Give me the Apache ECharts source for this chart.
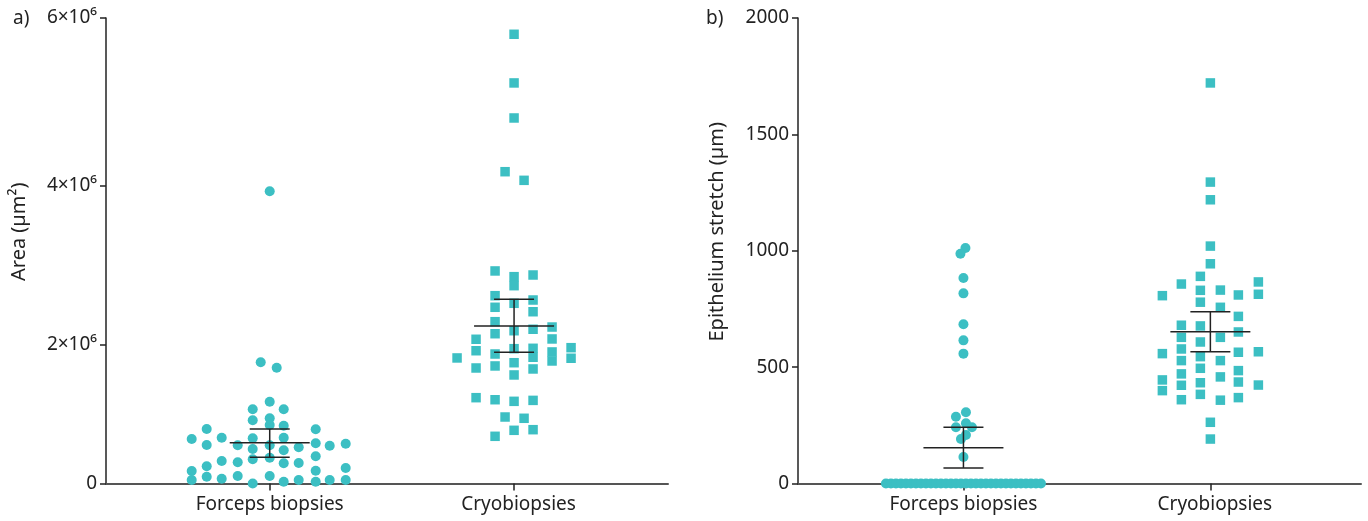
<!DOCTYPE html>
<html>
<head>
<meta charset="utf-8">
<script src="https://cdn.jsdelivr.net/npm/echarts@6/dist/echarts.min.js"></script>
<style>
  html, body { margin: 0; padding: 0; background: #fff; }
  #chart { width: 1368px; height: 521px; }
</style>
</head>
<body>
<div id="chart"></div>
<script>
// ---------------- DATA ----------------
const categories = ['Forceps biopsies', 'Cryobiopsies'];

// Panel a) Area (µm²)
const areaForceps = [3930000, 1766000, 1694000, 1235000, 1130000, 1130000, 977000, 1005000, 910000, 900000,
  854000, 850000, 710000, 729000, 720000, 729000, 622000, 618000, 618000, 648000,
  612000, 642000, 563000, 544000, 589000, 433000, 454000, 382000, 362000, 408000,
  347000, 351000, 299000, 224000, 272000, 229000, 70000, 129000, 94000, 141000,
  141000, 0, 39000, 70000, 39000, 70000, 70000];
// horizontal swarm offset of each dot, in dot widths
const areaForcepsJitter = [0, -0.9, 0.7, 0, -1.7, 1.4, -1.7, 0, 0, 1.4,
  -6.3, 4.6, -7.8, -4.8, -1.7, 1.4, -6.3, -3.2, 0, 4.6,
  6.0, 7.6, -1.7, 1.4, 2.9, 0, 4.6, -4.8, -3.2, -1.7,
  1.4, 2.9, -6.3, -7.8, 7.6, 4.6, -7.8, -6.3, -4.8, -3.2,
  0, -1.7, 1.4, 2.9, 4.6, 6.0, 7.6];

const areaCryo = [5809000, 5234000, 4816000, 4168000, 4063000, 2942000, 2870000, 2756000, 2891000, 2629000,
  2574000, 2532000, 2481000, 2424000, 2296000, 2227000, 2179000, 2198000, 2140000, 2068000,
  2072000, 1918000, 1875000, 1945000, 1950000, 1832000, 1902000, 1783000, 1958000, 1819000,
  1823000, 1690000, 1717000, 1760000, 1677000, 1597000, 1290000, 1262000, 1240000, 1253000,
  1023000, 1005000, 835000, 844000, 749000];
const areaCryoJitter = [0, 0, 0, -0.9, 1.0, -1.9, 0, 0, 1.9, -1.9,
  1.9, 0, -1.9, 1.9, -1.9, 3.8, 0, 1.9, -1.9, -3.8,
  3.8, -3.8, -1.9, 0, 1.9, 1.9, 3.8, 3.8, 5.7, 5.7,
  -5.7, -3.8, -1.9, 0, 1.9, 0, -3.8, -1.9, 0, 1.9,
  -0.9, 1.0, 0, 1.9, -1.9];

const areaMean = [656000, 2240000];
const areaLow = [439000, 1898000];
const areaHigh = [854000, 2583000];
const areaTicks = [0, 2000000, 4000000, 6000000];

// Panel b) Epithelium stretch (µm)
const stretchForceps = [1012, 987, 883, 817, 684, 615, 558, 306, 287, 242,
  259, 242, 191, 208, 114,
  0, 0, 0, 0, 0, 0, 0, 0, 0, 0, 0, 0, 0, 0, 0, 0,
  0, 0, 0, 0, 0, 0, 0, 0, 0, 0, 0, 0, 0, 0, 0, 0];
const stretchForcepsJitter = [0.2, -0.3, 0, 0, 0, 0, 0, 0.25, -0.75, -0.75,
  0.25, 0.85, -0.25, 0.25, 0,
  -7.75, -7.25, -6.75, -6.25, -5.75, -5.25, -4.75, -4.25, -3.75, -3.25, -2.75, -2.25, -1.75, -1.25, -0.75, -0.25,
  0.25, 0.75, 1.25, 1.75, 2.25, 2.75, 3.25, 3.75, 4.25, 4.75, 5.25, 5.75, 6.25, 6.75, 7.25, 7.75];

const stretchCryo = [1721, 1295, 1219, 1020, 944, 890, 857, 866, 807, 830,
  831, 810, 813, 779, 757, 718, 680, 677, 628, 651,
  628, 608, 578, 558, 564, 566, 528, 545, 528, 495,
  485, 471, 458, 445, 399, 422, 433, 436, 423, 360,
  383, 358, 369, 263, 191];
const stretchCryoJitter = [0, 0, 0, 0, 0, -1.0, -2.9, 4.8, -4.8, -1.0,
  1.0, 2.8, 4.8, -1.0, 1.0, 2.8, -2.9, -1.0, 1.0, 2.8,
  -2.9, -1.0, -2.9, -4.8, 2.8, 4.8, -2.9, -1.0, 1.0, -1.0,
  2.8, -2.9, 1.0, -4.8, -4.8, -2.9, -1.0, 2.8, 4.8, -2.9,
  -1.0, 1.0, 2.8, 0, 0];

const stretchMean = [154, 652];
const stretchLow = [67, 566];
const stretchHigh = [242, 738];
const stretchTicks = [0, 500, 1000, 1500, 2000];

// ---------------- STYLE / HELPERS ----------------
const FONT = 'Noto Sans';
const TEAL = '#3cbfc3';
const INK = '#222';
const JITTER_UNIT = 10; // px per dot width

// Panel a's printed y axis is slightly non-linear (ticks follow value^1.1)
const POW = 1.1;
const fwdA = v => Math.pow(v / 1e6, POW);
const invA = t => Math.pow(t, 1 / POW) * 1e6;

function supExp(n) {
  const map = {'0':'⁰','1':'¹','2':'²','3':'³','4':'⁴','5':'⁵','6':'⁶','7':'⁷','8':'⁸','9':'⁹'};
  return String(n).split('').map(c => map[c]).join('');
}
function areaLabel(t) {
  const v = Math.round(invA(t));
  if (v === 0) return '0';
  const e = Math.floor(Math.log10(v));
  const m = Math.round(v / Math.pow(10, e));
  return m + '×10' + supExp(e);
}

function scatterData(xPos, values, jitter, fwd) {
  return values.map((v, i) => ({
    value: [xPos, fwd(v)],
    symbolOffset: [jitter[i] * JITTER_UNIT, 0]
  }));
}

function errorData(means, lows, highs, fwd) {
  return means.map((m, i) => [i + 1, fwd(m), fwd(lows[i]), fwd(highs[i])]);
}

function renderErr(params, api) {
  const x = api.value(0);
  const pm = api.coord([x, api.value(1)]);
  const pl = api.coord([x, api.value(2)]);
  const ph = api.coord([x, api.value(3)]);
  const st = { stroke: INK, lineWidth: 1.5 };
  return {
    type: 'group',
    children: [
      { type: 'line', shape: { x1: pm[0] - 40, y1: pm[1], x2: pm[0] + 40, y2: pm[1] }, style: st },
      { type: 'line', shape: { x1: pl[0], y1: pl[1], x2: ph[0], y2: ph[1] }, style: st },
      { type: 'line', shape: { x1: ph[0] - 20, y1: ph[1], x2: ph[0] + 20, y2: ph[1] }, style: st },
      { type: 'line', shape: { x1: pl[0] - 20, y1: pl[1], x2: pl[0] + 20, y2: pl[1] }, style: st }
    ]
  };
}

const ident = v => v;

function xAxisCfg(gridIndex, min, max) {
  return {
    type: 'value', gridIndex, min, max,
    splitLine: { show: false },
    axisLine: { show: true, onZero: false, lineStyle: { color: '#555', width: 2 } },
    axisTick: { show: true, customValues: [1, 2], length: 7, lineStyle: { color: INK, width: 1.5 } },
    axisLabel: {
      show: true, customValues: [1, 2], margin: 12,
      formatter: v => (Math.round(v) === 2 ? '{c|' : '{f|') + categories[Math.round(v) - 1] + '}',
      rich: {
        f: { fontFamily: FONT, fontSize: 19, color: INK },
        c: { fontFamily: FONT, fontSize: 19, color: INK, padding: [0, 0, 0, 9] }
      },
      fontFamily: FONT, fontSize: 19, color: INK
    }
  };
}

const option = {
  backgroundColor: '#fff',
  animation: false,
  title: [
    { text: 'a)', left: 8, top: 4, textStyle: { fontFamily: FONT, fontSize: 19, fontWeight: 'normal', color: INK } },
    { text: 'b)', left: 701, top: 4, textStyle: { fontFamily: FONT, fontSize: 19, fontWeight: 'normal', color: INK } }
  ],
  grid: [
    { left: 106, top: 18, width: 562, bottom: 37.5 },
    { left: 798, top: 18, width: 563, bottom: 37.5 }
  ],
  xAxis: [
    xAxisCfg(0, 0.33, 2.63),
    xAxisCfg(1, 0.33, 2.61)
  ],
  yAxis: [
    {
      type: 'value', gridIndex: 0, min: 0, max: fwdA(6000000),
      name: 'Area (µm²)', nameLocation: 'middle', nameGap: 77,
      nameTextStyle: { fontFamily: FONT, fontSize: 20, color: INK, padding: [0, 0, 0, 38] },
      splitLine: { show: false },
      axisLine: { show: true, lineStyle: { color: INK, width: 1.5 } },
      axisTick: { show: true, customValues: areaTicks.map(fwdA), length: 6, lineStyle: { color: INK, width: 1.5 } },
      axisLabel: {
        show: true, customValues: areaTicks.map(fwdA), margin: 9,
        formatter: areaLabel, fontFamily: FONT, fontSize: 19, color: INK
      }
    },
    {
      type: 'value', gridIndex: 1, min: 0, max: 2000, interval: 500,
      name: 'Epithelium stretch (µm)', nameLocation: 'middle', nameGap: 71,
      nameTextStyle: { fontFamily: FONT, fontSize: 20, color: INK, padding: [0, 0, 0, 38] },
      splitLine: { show: false },
      axisLine: { show: true, lineStyle: { color: INK, width: 1.5 } },
      axisTick: { show: true, length: 6, lineStyle: { color: INK, width: 1.5 } },
      axisLabel: { show: true, margin: 9, formatter: v => String(v), fontFamily: FONT, fontSize: 19, color: INK }
    }
  ],
  series: [
    { type: 'scatter', xAxisIndex: 0, yAxisIndex: 0, symbol: 'circle', symbolSize: 10,
      itemStyle: { color: TEAL, opacity: 1 }, clip: false,
      data: scatterData(1, areaForceps, areaForcepsJitter, fwdA) },
    { type: 'scatter', xAxisIndex: 0, yAxisIndex: 0, symbol: 'rect', symbolSize: 9.5,
      itemStyle: { color: TEAL, opacity: 1 }, clip: false,
      data: scatterData(2, areaCryo, areaCryoJitter, fwdA) },
    { type: 'custom', xAxisIndex: 0, yAxisIndex: 0, z: 5, renderItem: renderErr,
      data: errorData(areaMean, areaLow, areaHigh, fwdA) },
    { type: 'scatter', xAxisIndex: 1, yAxisIndex: 1, symbol: 'circle', symbolSize: 10,
      itemStyle: { color: TEAL, opacity: 1 }, clip: false,
      data: scatterData(1, stretchForceps, stretchForcepsJitter, ident) },
    { type: 'scatter', xAxisIndex: 1, yAxisIndex: 1, symbol: 'rect', symbolSize: 9.5,
      itemStyle: { color: TEAL, opacity: 1 }, clip: false,
      data: scatterData(2, stretchCryo, stretchCryoJitter, ident) },
    { type: 'custom', xAxisIndex: 1, yAxisIndex: 1, z: 5, renderItem: renderErr,
      data: errorData(stretchMean, stretchLow, stretchHigh, ident) }
  ]
};

const chart = echarts.init(document.getElementById('chart'), null, { renderer: 'canvas' });
chart.setOption(option);
</script>
</body>
</html>
